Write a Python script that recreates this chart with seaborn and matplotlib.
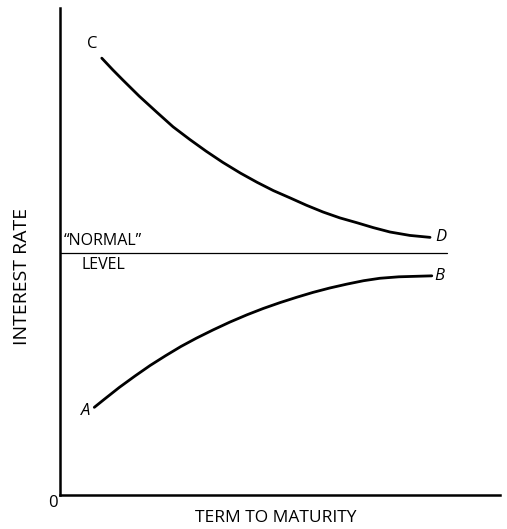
import matplotlib
matplotlib.use("Agg")
import matplotlib.pyplot as plt
import seaborn as sns

# curve C -> D (rates above normal, falling with term)
cd_term = [9.5, 12.0, 14.3, 18.0, 22.0, 25.7, 29.5, 33.2, 37.0, 41.0, 44.8,
           48.5, 52.3, 56.0, 59.8, 63.6, 67.5, 71.2, 75.0, 79.5, 84.1]
cd_rate = [89.7, 87.3, 85.2, 81.9, 78.6, 75.6, 73.0, 70.6, 68.3, 66.1, 64.2,
           62.5, 61.0, 59.5, 58.1, 56.9, 55.9, 54.9, 54.0, 53.3, 52.9]

# curve A -> B (rates below normal, rising with term)
ab_term = [7.8, 10.0, 13.5, 17.0, 20.5, 24.0, 27.5, 31.0, 34.8, 38.6, 42.5,
           46.2, 50.0, 53.8, 57.5, 61.3, 65.2, 69.0, 72.7, 77.0, 84.5]
ab_rate = [18.0, 19.6, 22.1, 24.4, 26.6, 28.6, 30.5, 32.2, 33.9, 35.5, 37.0,
           38.3, 39.5, 40.6, 41.6, 42.5, 43.3, 44.0, 44.5, 44.8, 45.0]

normal_level = 49.7
normal_end = 88.0

sns.set_style("ticks")
plt.rcParams['font.family'] = ['Open Sans', 'DejaVu Sans']
plt.rcParams['text.color'] = 'black'
plt.rcParams['axes.labelcolor'] = 'black'

fig = plt.figure(figsize=(5.07, 5.29), dpi=100)
ax = fig.add_axes([0.1183, 0.0643, 0.8679, 0.9206])

sns.lineplot(x=cd_term, y=cd_rate, sort=False, color="black", linewidth=2.0, ax=ax)
sns.lineplot(x=ab_term, y=ab_rate, sort=False, color="black", linewidth=2.0, ax=ax)
ax.plot([0, normal_end], [normal_level, normal_level], color="black", linewidth=0.9)

ax.set_xlim(0, 100)
ax.set_ylim(0, 100)
ax.set_xticks([])
ax.set_yticks([])
sns.despine(ax=ax)
for side in ["left", "bottom"]:
    ax.spines[side].set_linewidth(1.8)
    ax.spines[side].set_color("black")

# point labels
ax.text(cd_term[0] - 1.0, cd_rate[0] + 1.2, "C", fontsize=12, ha="right", va="bottom")
ax.text(cd_term[-1] + 1.2, cd_rate[-1], "D", fontsize=12, style="italic", ha="left", va="center")
ax.text(ab_term[0] - 0.8, ab_rate[0] - 0.8, "A", fontsize=12, style="italic", ha="right", va="center")
ax.text(ab_term[-1] + 0.5, ab_rate[-1], "B", fontsize=12, style="italic", ha="left", va="center")

ax.text(0.8, normal_level + 0.8, "\u201cNORMAL\u201d", fontsize=11.5, ha="left", va="bottom")
ax.text(5.0, normal_level - 0.8, "LEVEL", fontsize=11.5, ha="left", va="top")

ax.set_xlabel("TERM TO MATURITY", fontsize=12.5)
ax.set_ylabel("INTEREST RATE", fontsize=14)
ax.xaxis.set_label_coords(0.49, -0.047)
ax.yaxis.set_label_coords(-0.086, 0.448)
ax.xaxis.label.set_va("center")
ax.yaxis.label.set_va("center")
ax.text(-1.6, -1.6, "0", fontsize=12, ha="center", va="center")

fig.savefig("out.png", dpi=100)
